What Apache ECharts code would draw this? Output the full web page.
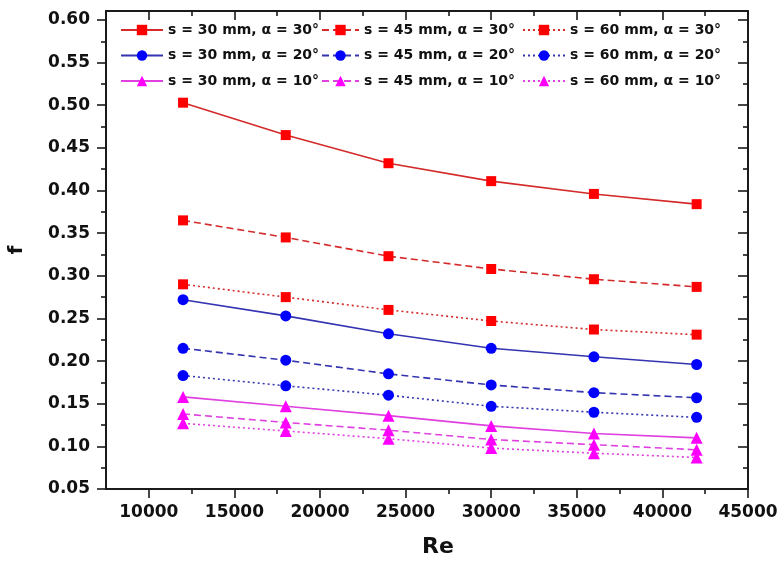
<!DOCTYPE html>
<html>
<head>
<meta charset="utf-8">
<script src="https://cdn.jsdelivr.net/npm/echarts@6/dist/echarts.min.js"></script>
<style>
html,body{margin:0;padding:0;background:#fff;}
#chart{width:779px;height:562px;}
</style>
</head>
<body>
<div id="chart"></div>
<script>
// ---- data ----
const reValues = [12000, 18000, 24000, 30000, 36000, 42000];

const f_s30_a30 = [0.503, 0.465, 0.432, 0.411, 0.396, 0.384];
const f_s45_a30 = [0.365, 0.345, 0.323, 0.308, 0.296, 0.287];
const f_s60_a30 = [0.290, 0.275, 0.260, 0.247, 0.237, 0.231];
const f_s30_a20 = [0.272, 0.253, 0.232, 0.215, 0.205, 0.196];
const f_s45_a20 = [0.215, 0.201, 0.185, 0.172, 0.163, 0.157];
const f_s60_a20 = [0.183, 0.171, 0.160, 0.147, 0.140, 0.134];
const f_s30_a10 = [0.158, 0.147, 0.136, 0.124, 0.115, 0.110];
const f_s45_a10 = [0.138, 0.128, 0.119, 0.108, 0.102, 0.096];
const f_s60_a10 = [0.127, 0.118, 0.109, 0.098, 0.092, 0.087];

const xMajorTicks = [10000, 15000, 20000, 25000, 30000, 35000, 40000, 45000];
const xMinorTicks = [12500, 17500, 22500, 27500, 32500, 37500, 42500];
const yMajorTicks = [0.05, 0.10, 0.15, 0.20, 0.25, 0.30, 0.35, 0.40, 0.45, 0.50, 0.55, 0.60];
const yMinorTicks = [0.075, 0.125, 0.175, 0.225, 0.275, 0.325, 0.375, 0.425, 0.475, 0.525, 0.575];

const xMin = 7500, xMax = 45000;
const yMin = 0.05, yMax = 0.6105;

const seriesNames = [
  's = 30 mm, α = 30°', 's = 45 mm, α = 30°', 's = 60 mm, α = 30°',
  's = 30 mm, α = 20°', 's = 45 mm, α = 20°', 's = 60 mm, α = 20°',
  's = 30 mm, α = 10°', 's = 45 mm, α = 10°', 's = 60 mm, α = 10°'
];
const seriesValues = [f_s30_a30, f_s45_a30, f_s60_a30, f_s30_a20, f_s45_a20, f_s60_a20, f_s30_a10, f_s45_a10, f_s60_a10];

// ---- styles ----
const FONT = 'DejaVu Sans';
const markerColors = ['#ff0000', '#0000ff', '#ff00ff'];
const lineColors = ['#d42a2a', '#3434b0', '#e040e0'];
const symbols = ['rect', 'circle', 'triangle'];
const symbolSizes = [10, 11, 12];
const lineTypes = ['solid', [7, 4], [2, 3]];

const series = seriesNames.map((name, i) => {
  const a = Math.floor(i / 3); // angle group
  const s = i % 3;             // spacing group
  return {
    name: name,
    type: 'line',
    xAxisIndex: 0,
    yAxisIndex: 0,
    data: reValues.map((x, k) => [x, seriesValues[i][k]]),
    symbol: symbols[a],
    symbolSize: symbolSizes[a],
    itemStyle: { color: markerColors[a] },
    lineStyle: { color: lineColors[a], width: 1.6, type: lineTypes[s] },
    z: 3
  };
});

const frame = { show: true, lineStyle: { color: '#1a1a1a', width: 2 } };
const noLine = { show: false };
const labelStyle = { fontFamily: FONT, fontWeight: 'bold', fontSize: 17, color: '#111' };

function xAx(position, ticks, len, inside, showLabel, showAxisLine) {
  return {
    type: 'value', position: position, min: xMin, max: xMax,
    axisLine: showAxisLine ? frame : noLine,
    axisTick: { show: true, inside: inside, length: len, customValues: ticks,
                lineStyle: { color: '#1a1a1a', width: 1.6 } },
    axisLabel: showLabel ? Object.assign({ show: true, margin: 15, customValues: ticks,
                formatter: v => String(Math.round(v)) }, labelStyle) : { show: false },
    splitLine: { show: false }
  };
}
function yAx(position, ticks, len, inside, showLabel, showAxisLine) {
  return {
    type: 'value', position: position, min: yMin, max: yMax,
    axisLine: showAxisLine ? frame : noLine,
    axisTick: { show: true, inside: inside, length: len, customValues: ticks,
                lineStyle: { color: '#1a1a1a', width: 1.6 } },
    axisLabel: showLabel ? Object.assign({ show: true, margin: 16, customValues: ticks,
                formatter: v => v.toFixed(2) }, labelStyle) : { show: false },
    splitLine: { show: false }
  };
}

const xAxes = [
  xAx('bottom', xMajorTicks, 9, false, true, true),
  xAx('bottom', xMinorTicks, 5, false, false, false),
  xAx('top', xMajorTicks, 9, true, false, true),
  xAx('top', xMinorTicks, 5, true, false, false)
];
xAxes[0].name = 'Re';
xAxes[0].nameLocation = 'middle';
xAxes[0].nameGap = 47;
xAxes[0].nameTextStyle = { fontFamily: FONT, fontWeight: 'bold', fontSize: 22, color: '#111', padding: [0, 0, 0, 22] };

const yAxes = [
  yAx('left', yMajorTicks, 9, false, true, true),
  yAx('left', yMinorTicks, 5, false, false, false),
  yAx('right', yMajorTicks, 10, true, false, true),
  yAx('right', yMinorTicks, 5, true, false, false)
];
yAxes[0].name = 'f';
yAxes[0].nameLocation = 'middle';
yAxes[0].nameGap = 79;
yAxes[0].nameTextStyle = { fontFamily: FONT, fontWeight: 'bold', fontSize: 20, color: '#111', padding: [0, 0, 0, 0] };

function legendCol(left, width, names) {
  return {
    orient: 'vertical',
    left: left,
    top: 23,
    itemWidth: width,
    itemHeight: 13,
    itemGap: 11.5,
    padding: 0,
    data: names,
    textStyle: { fontFamily: FONT, fontWeight: 'bold', fontSize: 14, lineHeight: 14, color: '#111' }
  };
}

const option = {
  backgroundColor: '#ffffff',
  animation: false,
  grid: { left: 106, right: 31, top: 11, bottom: 73, containLabel: false, outerBoundsMode: 'none' },
  xAxis: xAxes,
  yAxis: yAxes,
  legend: [
    legendCol(120, 42, [seriesNames[0], seriesNames[3], seriesNames[6]]),
    legendCol(321, 37, [seriesNames[1], seriesNames[4], seriesNames[7]]),
    legendCol(522, 42, [seriesNames[2], seriesNames[5], seriesNames[8]])
  ],
  series: series
};

const chart = echarts.init(document.getElementById('chart'), null, { renderer: 'canvas' });
chart.setOption(option);
</script>
</body>
</html>
